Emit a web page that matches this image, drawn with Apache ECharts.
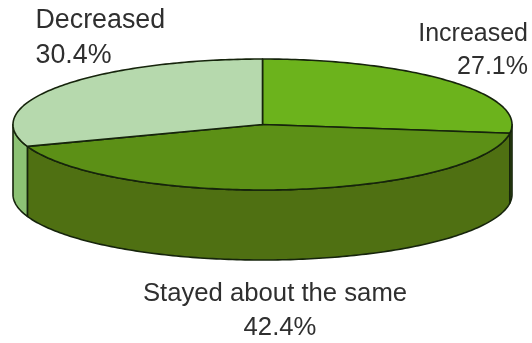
<!DOCTYPE html>
<html>
<head>
<meta charset="utf-8">
<style>html,body{margin:0;padding:0;background:#fff}#chart{width:532px;height:343px}</style>
<script src="https://cdn.jsdelivr.net/npm/echarts@6/dist/echarts.min.js"></script>
</head>
<body>
<div id="chart"></div>
<script>
// Survey shares, clockwise from twelve o'clock
const categories = ['Increased', 'Stayed about the same', 'Decreased'];
const shares = [27.1, 42.4, 30.4];
const topColors = ['#6cb31c', '#5c9016', '#b6d9ad'];
const sideColors = ['#50701a', '#4f7012', '#8cc274'];

// Disc geometry
const CX = 262.5, CY = 124.5, RX = 249.5, RY = 65.5, DEPTH = 70;
const EDGE = '#16240c';
const total = shares.reduce((a, b) => a + b, 0);

// Point on the upper rim for a clockwise angle measured from the top
const rim = (a, dy) => [CX + RX * Math.sin(a), CY - RY * Math.cos(a) + (dy || 0)];

function arcPoints(a0, a1, dy) {
  const n = Math.max(2, Math.ceil(Math.abs(a1 - a0) * 60));
  const pts = [];
  for (let i = 0; i <= n; i++) pts.push(rim(a0 + (a1 - a0) * i / n, dy));
  return pts;
}

function renderSlice(params, api) {
  const i = params.dataIndex;
  let before = 0;
  for (let k = 0; k < i; k++) before += shares[k];
  const a0 = before / total * Math.PI * 2;
  const a1 = (before + api.value(0)) / total * Math.PI * 2;
  const children = [];

  // The wall is only visible on the front half of the disc
  const s0 = Math.max(a0, Math.PI / 2);
  const s1 = Math.min(a1, Math.PI * 1.5);
  if (s1 > s0) {
    const upper = arcPoints(s0, s1, 0);
    const lower = arcPoints(s1, s0, DEPTH);
    children.push({
      type: 'polygon',
      shape: { points: upper.concat(lower) },
      style: { fill: sideColors[i], stroke: EDGE, lineWidth: 1.6, lineJoin: 'round' }
    });
  }
  children.push({
    type: 'polygon',
    shape: { points: [[CX, CY]].concat(arcPoints(a0, a1, 0)) },
    style: { fill: topColors[i], stroke: EDGE, lineWidth: 1.6, lineJoin: 'round' }
  });
  return { type: 'group', children };
}

// Label anchors, in the same order as the categories
const labelAnchors = [
  { nameX: 528, nameY: 34, valueX: 528, valueY: 67, align: 'right', size: 25 },
  { nameX: 275, nameY: 294, valueX: 280, valueY: 328, align: 'center', size: 25.7 },
  { nameX: 35.5, nameY: 21, valueX: 35.5, valueY: 56, align: 'left', size: 26.8 }
];

const labelElements = [];
categories.forEach((name, i) => {
  const p = labelAnchors[i];
  [[name, p.nameX, p.nameY], [shares[i].toFixed(1) + '%', p.valueX, p.valueY]].forEach(([line, x, y]) => {
    labelElements.push({
      type: 'text',
      x: x,
      y: y,
      style: {
        text: line,
        fill: '#2f2f2f',
        font: p.size + 'px "Liberation Sans", Arial, sans-serif',
        textAlign: p.align,
        textVerticalAlign: 'middle'
      }
    });
  });
});

const chart = echarts.init(document.getElementById('chart'), null, { renderer: 'canvas' });
chart.setOption({
  animation: false,
  backgroundColor: '#ffffff',
  graphic: labelElements,
  series: [{
    type: 'custom',
    coordinateSystem: 'none',
    renderItem: renderSlice,
    data: shares.map((v, i) => ({ name: categories[i], value: [v] }))
  }]
});
</script>
</body>
</html>
